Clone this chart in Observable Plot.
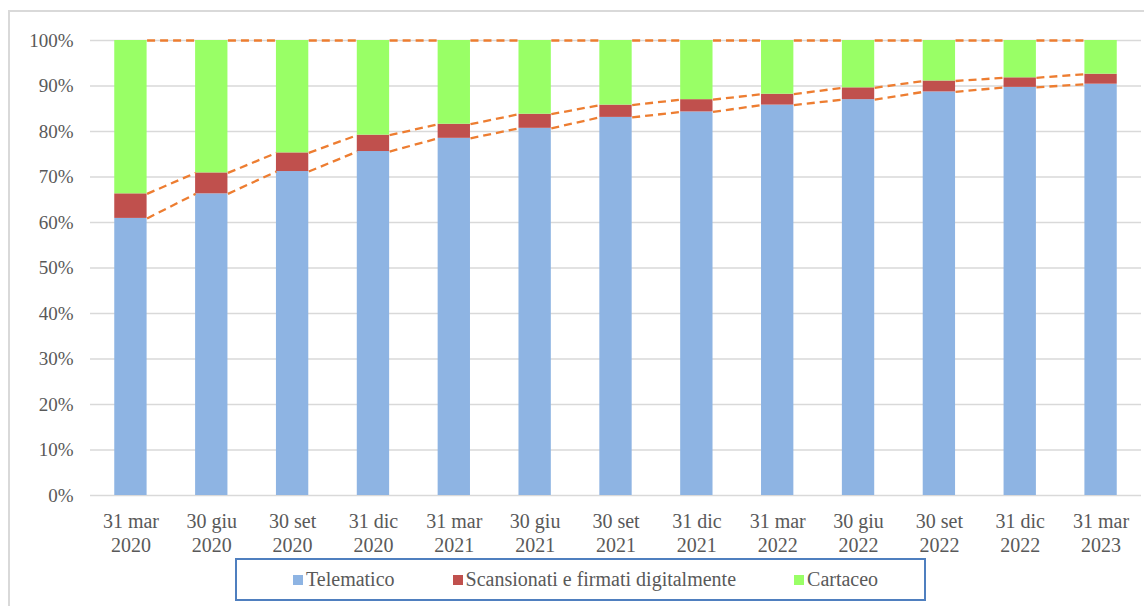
<!DOCTYPE html>
<html>
<head>
<meta charset="utf-8">
<script src="https://cdn.jsdelivr.net/npm/d3@7"></script>
<script src="https://cdn.jsdelivr.net/npm/@observablehq/plot@0.6"></script>
<style>
  html, body { margin: 0; padding: 0; background: #fff; }
  body { width: 1144px; height: 606px; position: relative; overflow: hidden; }
  #frame { position: absolute; left: 8px; top: 10px; width: 1140px; height: 600px; border-left: 2px solid #d9d9d9; border-top: 2px solid #d9d9d9; box-sizing: border-box; }
  #chart { position: absolute; left: 0; top: 0; }
  #legend { position: absolute; left: 235px; top: 558px; width: 691px; height: 43px; box-sizing: border-box; border: 2px solid #4f7fbf;
            display: flex; align-items: center; justify-content: flex-start; gap: 58px; font-size: 20px; color: #595959; padding-left: 56px;
            font-family: "Liberation Serif", "DejaVu Serif", serif; }
  .item { display: flex; align-items: center; gap: 3px; white-space: nowrap; }
  .sw { width: 10px; height: 10px; display: inline-block; }
</style>
</head>
<body>
<div id="frame"></div>
<div id="chart"></div>
<div id="legend"></div>
<script>
// ---- data ----
const labels = ["31 mar\n2020","30 giu\n2020","30 set\n2020","31 dic\n2020","31 mar\n2021","30 giu\n2021","30 set\n2021","31 dic\n2021","31 mar\n2022","30 giu\n2022","30 set\n2022","31 dic\n2022","31 mar\n2023"];
const telematico   = [60.9, 66.3, 71.2, 75.6, 78.5, 80.7, 83.1, 84.3, 85.8, 87.0, 88.7, 89.7, 90.4];
const scansionati  = [5.4, 4.6, 4.1, 3.6, 3.1, 3.1, 2.7, 2.7, 2.4, 2.6, 2.4, 2.1, 2.2];
const cartaceo     = [33.7, 29.1, 24.7, 20.8, 18.4, 16.2, 14.2, 13.0, 11.8, 10.4, 8.9, 8.2, 7.4];
const seriesNames  = ["Telematico", "Scansionati e firmati digitalmente", "Cartaceo"];
const seriesColors = ["#8eb4e3", "#c0504d", "#99ff66"];

// ---- build tables ----
const seriesValues = [telematico, scansionati, cartaceo];
const segs = [];
const tops = [];
labels.forEach((lab, i) => {
  let acc = 0;
  const t = [];
  seriesValues.forEach((vals, k) => {
    const y1 = acc, y2 = acc + vals[i] / 100;
    segs.push({i, series: seriesNames[k], y1, y2});
    acc = y2;
    t.push(acc);
  });
  tops.push(t);
});
const half = 0.2;
const links = [];
for (let i = 0; i < labels.length - 1; i++) {
  for (let k = 0; k < 3; k++) {
    links.push({x1: i + half, x2: i + 1 - half, y1: tops[i][k], y2: tops[i + 1][k]});
  }
}

const font = "Liberation Serif, DejaVu Serif, serif";
const chart = Plot.plot({
  width: 1144,
  height: 556,
  marginLeft: 90,
  marginRight: 3,
  marginTop: 40,
  marginBottom: 61,
  style: {fontFamily: font, fontSize: "19px", color: "#595959", background: "transparent", overflow: "visible"},
  x: {type: "linear", domain: [-0.5, labels.length - 0.5]},
  y: {domain: [0, 1]},
  color: {domain: seriesNames, range: seriesColors},
  marks: [
    Plot.gridY({ticks: d3.range(0, 1.0001, 0.1), stroke: "#d9d9d9", strokeOpacity: 1, strokeWidth: 1.6}),
    Plot.rect(segs, {x1: d => d.i - half, x2: d => d.i + half, y1: "y1", y2: "y2", fill: "series"}),
    Plot.link(links, {x1: "x1", x2: "x2", y1: "y1", y2: "y2", stroke: "#ed7d31", strokeWidth: 2.3, strokeDasharray: "8,5"}),
    Plot.axisY({ticks: d3.range(0, 1.0001, 0.1), tickFormat: d3.format(".0%"), tickSize: 0, tickPadding: 17, label: null, fontSize: 19, fill: "#595959"}),
    Plot.axisX({ticks: d3.range(labels.length), tickFormat: i => labels[i], tickSize: 0, tickPadding: 16, label: null, fontSize: 20, fill: "#595959", lineHeight: 1.18})
  ]
});
document.getElementById("chart").appendChild(chart);

// ---- legend ----
const leg = document.getElementById("legend");
seriesNames.forEach((n, k) => {
  const it = document.createElement("div");
  it.className = "item";
  it.innerHTML = `<span class="sw" style="background:${seriesColors[k]}"></span><span>${n}</span>`;
  leg.appendChild(it);
});
</script>
</body>
</html>
